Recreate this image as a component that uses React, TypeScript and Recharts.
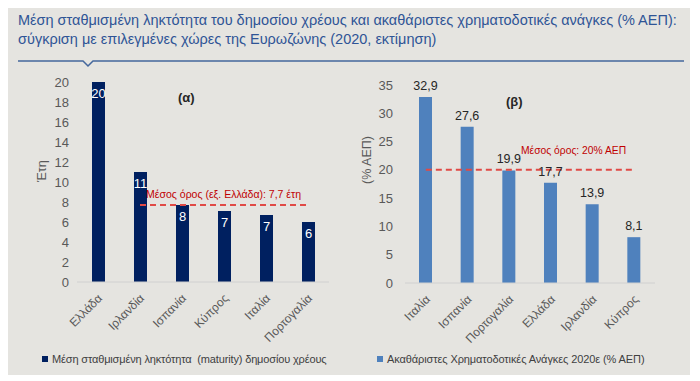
import { BarChart, Bar, XAxis, YAxis, ReferenceLine, LabelList, Label } from "recharts";

const countriesA = ["Ελλάδα", "Ιρλανδία", "Ισπανία", "Κύπρος", "Ιταλία", "Πορτογαλία"];
const maturityYears = [20, 11, 7.7, 7.1, 6.7, 6.0];
const maturityTicks = [0, 2, 4, 6, 8, 10, 12, 14, 16, 18, 20];
const avgMaturity = 7.7;

const countriesB = ["Ιταλία", "Ισπανία", "Πορτογαλία", "Ελλάδα", "Ιρλανδία", "Κύπρος"];
const grossNeeds = [32.9, 27.6, 19.9, 17.7, 13.9, 8.1];
const needsTicks = [0, 5, 10, 15, 20, 25, 30, 35];
const avgNeeds = 20;

const dataA = countriesA.map((c, i) => ({ country: c, value: maturityYears[i] }));
const dataB = countriesB.map((c, i) => ({ country: c, value: grossNeeds[i] }));

const FONT = "'Liberation Sans', Arial, sans-serif";
const GREY = "#595959";

const RotatedTick = ({ x, y, payload }: any) => (
  <text
    x={x + 5}
    y={y + 9}
    transform={`rotate(-45, ${x + 5}, ${y + 9})`}
    textAnchor="end"
    fill={GREY}
    fontSize={12}
    fontFamily={FONT}
  >
    {payload.value}
  </text>
);

export default function App() {
  return (
    <div style={{ position: "absolute", left: 0, top: 0, width: 700, height: 381, background: "#fff", fontFamily: FONT }}>
      <div style={{ position: "absolute", left: 8, top: 8, width: 682, height: 367, background: "#e5e4e0" }} />
      <div style={{ position: "absolute", left: 18, top: 11, width: 672, color: "#2f5496", fontSize: 14.5, lineHeight: "19px", whiteSpace: "nowrap" }}>
        Μέση σταθμισμένη ληκτότητα του δημοσίου χρέους και ακαθάριστες χρηματοδοτικές ανάγκες (% ΑΕΠ):
        <br />
        σύγκριση με επιλεγμένες χώρες της Ευρωζώνης (2020, εκτίμηση)
      </div>
      <svg style={{ position: "absolute", left: 0, top: 0 }} width={700} height={80}>
        <polyline points="18,61 83,61 88,66 93,61 684,61" fill="none" stroke="#44679c" strokeWidth={1.5} />
      </svg>

      <div style={{ position: "absolute", left: 0, top: 60 }}>
        <BarChart width={345} height={320} data={dataA} margin={{ top: 22, right: 16, left: 27, bottom: 38 }}>
          <XAxis dataKey="country" axisLine={{ stroke: "#d0d0d0" }} tickLine={false} interval={0} height={60} tick={<RotatedTick />} />
          <YAxis
            domain={[0, 20]}
            ticks={maturityTicks}
            interval={0}
            width={50}
            axisLine={false}
            tickLine={false}
            tick={{ fill: GREY, fontSize: 13, fontFamily: FONT }}
          >
            <Label value="Έτη" angle={-90} position="insideLeft" offset={15} fill={GREY} fontSize={12.5} fontFamily={FONT} />
          </YAxis>
          <Bar dataKey="value" fill="#002060" barSize={13} isAnimationActive={false}>
            <LabelList
              dataKey="value"
              position="insideTop"
              offset={7}
              fill="#fff"
              fontSize={13}
              fontFamily={FONT}
              formatter={(v: any) => Math.round(v)}
            />
          </Bar>
          <ReferenceLine
            segment={[{ x: "Ιρλανδία", y: avgMaturity }, { x: "Πορτογαλία", y: avgMaturity }]}
            stroke="#e04a46"
            strokeWidth={2}
            strokeDasharray="6 4"
          >
            <Label
              value="Μέσος όρος (εξ. Ελλάδα):  7,7 έτη"
              position="insideBottomRight"
              offset={7}
              fill="#c00000"
              fontSize={10.5}
              fontFamily={FONT}
            />
          </ReferenceLine>
        </BarChart>
      </div>

      <div style={{ position: "absolute", left: 345, top: 60 }}>
        <BarChart width={345} height={320} data={dataB} margin={{ top: 25, right: 35, left: 15, bottom: 37 }}>
          <XAxis dataKey="country" axisLine={{ stroke: "#d0d0d0" }} tickLine={false} interval={0} height={60} tick={<RotatedTick />} />
          <YAxis
            domain={[0, 35]}
            ticks={needsTicks}
            interval={0}
            width={45}
            axisLine={false}
            tickLine={false}
            tickMargin={6}
            tick={{ fill: GREY, fontSize: 13, fontFamily: FONT }}
          >
            <Label value="(% ΑΕΠ)" angle={-90} position="insideLeft" offset={7} fill={GREY} fontSize={12.5} fontFamily={FONT} />
          </YAxis>
          <Bar dataKey="value" fill="#4f81bd" barSize={13} isAnimationActive={false}>
            <LabelList
              dataKey="value"
              position="top"
              offset={7}
              fill="#262626"
              fontSize={12.5}
              fontFamily={FONT}
              formatter={(v: any) => String(v).replace(".", ",")}
            />
          </Bar>
          <ReferenceLine
            segment={[{ x: "Ιταλία", y: avgNeeds }, { x: "Κύπρος", y: avgNeeds }]}
            stroke="#e04a46"
            strokeWidth={2}
            strokeDasharray="6 4"
          >
            <Label
              value="Μέσος όρος: 20% ΑΕΠ"
              position="insideBottomRight"
              offset={8}
              dy={-8}
              fill="#c00000"
              fontSize={10.3}
              fontFamily={FONT}
            />
          </ReferenceLine>
        </BarChart>
      </div>

      <div style={{ position: "absolute", left: 178, top: 90, fontSize: 13, fontWeight: "bold", color: "#262626" }}>(α)</div>
      <div style={{ position: "absolute", left: 506, top: 94, fontSize: 13, fontWeight: "bold", color: "#262626" }}>(β)</div>

      <div style={{ position: "absolute", left: 42, top: 353, fontSize: 11, letterSpacing: -0.15, color: "#404040", display: "flex", alignItems: "center", whiteSpace: "pre" }}>
        <span style={{ width: 6, height: 6, background: "#002060", marginRight: 4, display: "inline-block" }} />
        Μέση σταθμισμένη ληκτότητα  (maturity) δημοσίου χρέους
      </div>
      <div style={{ position: "absolute", left: 377, top: 353, fontSize: 11, letterSpacing: -0.1, color: "#404040", display: "flex", alignItems: "center", whiteSpace: "pre" }}>
        <span style={{ width: 6, height: 6, background: "#4f81bd", marginRight: 4, display: "inline-block" }} />
        Ακαθάριστες Χρηματοδοτικές Ανάγκες 2020ε (% ΑΕΠ)
      </div>
    </div>
  );
}
